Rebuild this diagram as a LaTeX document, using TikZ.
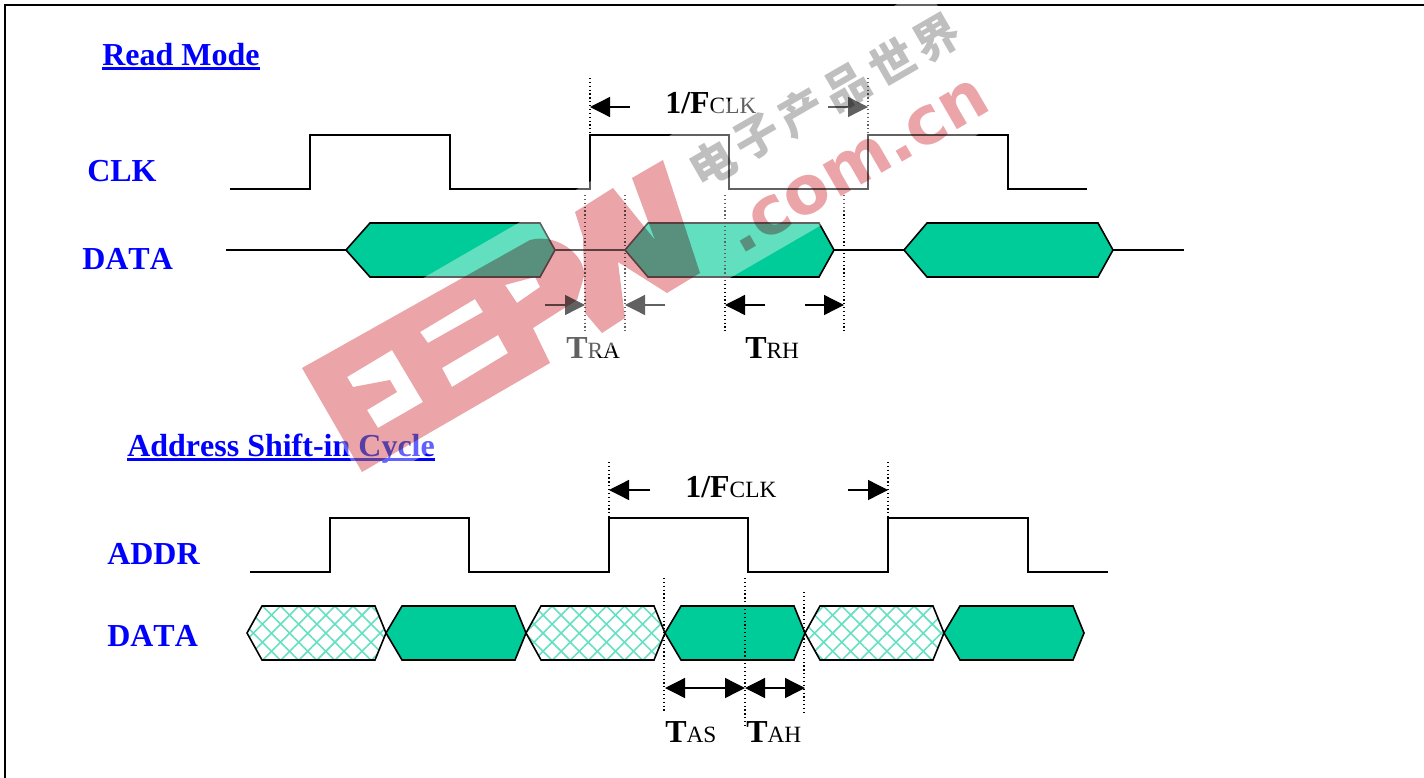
\documentclass[tikz,border=0pt]{standalone}
\usepackage{fontspec}
\setmainfont[Kerning=Off]{Liberation Serif}
\newfontfamily\logofont{DejaVu Sans}
\newfontfamily\cjkfont{Noto Sans CJK SC}
\usetikzlibrary{arrows.meta,patterns.meta}
\definecolor{hexgreen}{HTML}{00CC99}
\definecolor{headblue}{HTML}{0000FF}
\definecolor{markred}{HTML}{EBA5A8}
\definecolor{markgray}{HTML}{BFBFBF}
\newcommand{\ulhead}[1]{\setbox0=\hbox{#1}\leavevmode\rlap{\rule[-3.6pt]{\wd0}{2.2pt}}\box0}
\newcommand{\biglabel}[2]{{\bfseries #1}{\fontsize{17.5}{20}\selectfont #2}}
\begin{document}
\begin{tikzpicture}[x=0.75pt,y=-0.75pt]
	\tikzstyle{signal}=[draw=black, line width=1.2pt, line join=miter]
	\tikzstyle{hexsolid}=[signal, fill=hexgreen]
	\tikzstyle{hexcross}=[signal, preaction={pattern={Lines[angle=45,distance=9.6pt,line width=1.2pt]}, pattern color=hexgreen!60}, pattern={Lines[angle=-45,distance=9.6pt,line width=1.2pt]}, pattern color=hexgreen!60]
	\tikzstyle{guide}=[draw=black, line width=0.9pt, dotted]
	\tikzstyle{span}=[draw=black, line width=1pt, -{Triangle[length=15pt,width=15pt]}]
	\tikzstyle{bothspan}=[draw=black, line width=1pt, {Triangle[length=15pt,width=15pt]}-{Triangle[length=15pt,width=15pt]}]
	\tikzstyle{heading}=[anchor=base west, inner sep=0pt, text=headblue, font=\fontsize{24}{28}\selectfont\bfseries]
	\tikzstyle{timing}=[anchor=base west, inner sep=0pt, font=\fontsize{24}{28}\selectfont]
	\tikzstyle{halo}=[fill=white, fill opacity=0.38, draw=none]
	\tikzstyle{redmark}=[fill=markred, draw=none, blend mode=multiply]
	\tikzstyle{graymark}=[inner sep=0pt, text=markgray, rotate=30, blend mode=multiply, font=\fontsize{34}{36}\cjkfont\bfseries]

	\useasboundingbox (0, 0) rectangle (1424, 778);
	\draw [line width=2pt] (5, 780) -- (5, 5) -- (1426, 5);

	\draw node[heading] at (102, 65) (readhead) {\ulhead{Read Mode}};
	\draw node[heading] at (87, 181) (clklabel) {CLK};
	\draw node[heading] at (82, 269) (datalabel) {DATA};
	\draw node[heading] at (127, 456) (addrhead) {\ulhead{Address Shift-in Cycle}};
	\draw node[heading] at (107, 564) (addrlabel) {ADDR};
	\draw node[heading] at (107, 646) (datalabelb) {DATA};

	\draw [signal] (230, 189) -- (310, 189) -- (310, 135) -- (450, 135) -- (450, 189) -- (590, 189) -- (590, 135) -- (729, 135) -- (729, 189) -- (868, 189) -- (868, 135) -- (1008, 135) -- (1008, 189) -- (1087, 189);
	\draw [signal] (226, 250) -- (346, 250);
	\draw [hexsolid] (346, 250) -- (370, 223) -- (540, 223) -- (555, 250) -- (540, 277) -- (370, 277) -- cycle;
	\draw [signal] (555, 250) -- (625, 250);
	\draw [hexsolid] (625, 250) -- (648, 223) -- (819, 223) -- (834, 250) -- (819, 277) -- (648, 277) -- cycle;
	\draw [signal] (834, 250) -- (904, 250);
	\draw [hexsolid] (904, 250) -- (927, 223) -- (1098, 223) -- (1113, 250) -- (1098, 277) -- (927, 277) -- cycle;
	\draw [signal] (1113, 250) -- (1184, 250);

	\draw [guide] (590, 78) -- (590, 135);
	\draw [guide] (868, 78) -- (868, 135);
	\draw [guide] (585, 195) -- (585, 331);
	\draw [guide] (625, 195) -- (625, 331);
	\draw [guide] (725, 195) -- (725, 331);
	\draw [guide] (844, 195) -- (844, 331);

	\coordinate (fa) at (630, 107);
	\coordinate (fb) at (590, 107);
	\coordinate (fc) at (828, 107);
	\coordinate (fd) at (868, 107);
	\coordinate (ra) at (545, 305);
	\coordinate (rb) at (585, 305);
	\coordinate (rc) at (665, 305);
	\coordinate (rd) at (625, 305);
	\coordinate (ha) at (765, 305);
	\coordinate (hb) at (725, 305);
	\coordinate (hc) at (805, 305);
	\coordinate (hd) at (844, 305);
	\draw [span] (fa) -- (fb);
	\draw [span] (fc) -- (fd);
	\draw [span] (ra) -- (rb);
	\draw [span] (rc) -- (rd);
	\draw [span] (ha) -- (hb);
	\draw [span] (hc) -- (hd);

	\draw node[timing] at (665, 113) (freqa) {\biglabel{1/F}{CLK}};
	\draw node[timing] at (566, 358) (tra) {\biglabel{T}{RA}};
	\draw node[timing] at (745, 358) (trh) {\biglabel{T}{RH}};

	\draw [signal] (250, 572) -- (330, 572) -- (330, 518) -- (469, 518) -- (469, 572) -- (609, 572) -- (609, 518) -- (748, 518) -- (748, 572) -- (888, 572) -- (888, 518) -- (1028, 518) -- (1028, 572) -- (1108, 572);
	\draw [hexcross] (247, 633) -- (262, 606) -- (375, 606) -- (386, 633) -- (375, 660) -- (262, 660) -- cycle;
	\draw [hexsolid] (386, 633) -- (402, 606) -- (515, 606) -- (526, 633) -- (515, 660) -- (402, 660) -- cycle;
	\draw [hexcross] (526, 633) -- (541, 606) -- (654, 606) -- (665, 633) -- (654, 660) -- (541, 660) -- cycle;
	\draw [hexsolid] (665, 633) -- (681, 606) -- (794, 606) -- (805, 633) -- (794, 660) -- (681, 660) -- cycle;
	\draw [hexcross] (805, 633) -- (820, 606) -- (933, 606) -- (944, 633) -- (933, 660) -- (820, 660) -- cycle;
	\draw [hexsolid] (944, 633) -- (960, 606) -- (1073, 606) -- (1084, 633) -- (1073, 660) -- (960, 660) -- cycle;

	\draw [guide] (609, 462) -- (609, 518);
	\draw [guide] (888, 462) -- (888, 518);
	\draw [guide] (664, 578) -- (664, 713);
	\draw [guide] (745, 578) -- (745, 728);
	\draw [guide] (804, 592) -- (804, 712);

	\coordinate (ga) at (650, 490);
	\coordinate (gb) at (609, 490);
	\coordinate (gc) at (848, 490);
	\coordinate (gd) at (888, 490);
	\coordinate (sa) at (665, 688);
	\coordinate (sb) at (745, 688);
	\coordinate (sc) at (805, 688);
	\draw [span] (ga) -- (gb);
	\draw [span] (gc) -- (gd);
	\draw [bothspan] (sa) -- (sb);
	\draw [bothspan] (sb) -- (sc);

	\draw node[timing] at (685, 497) (freqb) {\biglabel{1/F}{CLK}};
	\draw node[timing] at (665, 742) (tas) {\biglabel{T}{AS}};
	\draw node[timing] at (746, 742) (tah) {\biglabel{T}{AH}};

	\fill [halo] (290, 355) -- (925, -12) -- (1015, 113) -- (367, 488) -- cycle;
	\fill [redmark, even odd rule] (302, 368) -- (530, 240) .. controls (560, 232) and (590, 260) .. (583, 280) -- (577, 300) -- (533, 328) -- (550, 363) -- (362, 472) -- cycle
		(347, 377) -- (392, 350) -- (423, 402) -- (378, 428) -- (367, 410) -- (397, 392) -- (390, 380) -- (353, 387) -- cycle
		(420, 332) -- (475, 299) -- (483, 312) -- (428, 343) -- cycle
		(442, 368) -- (498, 335) -- (508, 353) -- (452, 387) -- cycle
		(505, 285) -- (535, 277) -- (540, 287) -- (517, 303) -- cycle;
	\fill [redmark] (575, 212) -- (613, 188) -- (655, 240) -- (632, 178) -- (663, 160) -- (700, 273) -- (667, 293) -- (618, 262) -- (625, 318) -- (602, 333) -- (585, 313) -- (583, 237) -- cycle;
	\draw node[inner sep=0pt, anchor=base, rotate=30, text=markred, blend mode=multiply, font=\fontsize{50}{52}\logofont\bfseries] at (867, 182) (logotext) {.com.cn};
	\draw node[graymark] at (713, 163) (marka) {电};
	\draw node[graymark] at (757, 137) (markb) {子};
	\draw node[graymark] at (802, 112) (markc) {产};
	\draw node[graymark] at (847, 87) (markd) {品};
	\draw node[graymark] at (892, 62) (marke) {世};
	\draw node[graymark] at (937, 38) (markf) {界};
\end{tikzpicture}
\end{document}
